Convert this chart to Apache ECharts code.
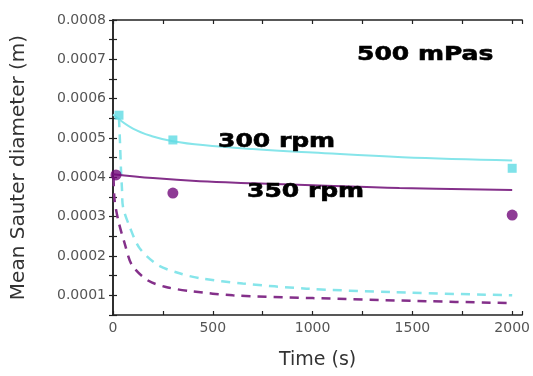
<!DOCTYPE html>
<html>
<head>
<meta charset="utf-8">
<script src="https://cdn.jsdelivr.net/npm/echarts@6/dist/echarts.min.js"></script>
<style>
html,body{margin:0;padding:0;background:#fff;}
#chart{width:533px;height:376px;}
</style>
</head>
<body>
<div id="chart"></div>
<script>
// Measured points
const meas300_t = [30, 300, 2000];
const meas300_d = [0.000558, 0.000495, 0.000423];
const meas350_t = [15, 300, 2000];
const meas350_d = [0.000406, 0.00036, 0.000304];

// Solid model curves
const fit300_t = [0, 100, 200, 300, 450, 700, 1000, 1450, 2000];
const fit300_d = [0.00056, 0.000524, 0.000504, 0.000492, 0.000482, 0.000472, 0.000463, 0.000451, 0.000443];
const fit350_t = [0, 200, 435, 700, 1000, 1435, 2000];
const fit350_d = [0.000408, 0.000398, 0.00039, 0.000385, 0.00038, 0.000373, 0.000368];

// Dashed model curves
const dash300_t = [30, 35, 40, 45, 50, 83, 133, 225, 333, 440, 650, 970, 1400, 2000];
const dash300_d = [0.00055, 0.00049, 0.00042, 0.00037, 0.000325, 0.000275, 0.00022, 0.000177, 0.000156, 0.000143, 0.00013, 0.000117, 0.000108, 0.0001];
const dash350_t = [3, 8, 28, 58, 95, 178, 275, 400, 600, 1000, 1500, 2000];
const dash350_d = [0.0004, 0.000342, 0.000287, 0.000233, 0.000177, 0.000137, 0.00012, 0.00011, 0.0001, 0.000093, 0.000086, 0.00008];

// Axis ranges
const xMin = 0, xMax = 2050, xStep = 250;
const yMin = 0.00005, yMax = 0.0008, yStep = 0.00005;

const annotations = ['500 mPas', '300 rpm', '350 rpm'];

const zip = (a, b) => a.map((v, i) => [v, b[i]]);

const cyanMark = '#5fdbe3';
const cyanLine = '#86e5ea';
const purpleMark = '#720a7a';
const purpleLine = '#84308a';

const axisLineStyle = { color: '#222', width: 1.5 };
const baseX = {
  type: 'value', min: xMin, max: xMax, interval: xStep,
  axisLine: { show: true, lineStyle: axisLineStyle },
  axisTick: { show: true, inside: true, length: 4, lineStyle: { color: '#222', width: 1.2 } },
  splitLine: { show: false }
};
const baseY = {
  type: 'value', min: yMin, max: yMax, interval: yStep,
  axisLine: { show: true, lineStyle: axisLineStyle },
  axisTick: { show: true, inside: true, length: 4, lineStyle: { color: '#222', width: 1.2 } },
  splitLine: { show: false }
};

const chart = echarts.init(document.getElementById('chart'), null, { renderer: 'canvas' });
chart.setOption({
  animation: false,
  backgroundColor: '#fff',
  grid: { left: 113, right: 10, top: 20, bottom: 61 },
  xAxis: [
    Object.assign({}, baseX, {
      position: 'bottom',
      name: 'Time (s)', nameLocation: 'middle', nameGap: 36,
      nameTextStyle: { fontFamily: 'DejaVu Sans', fontSize: 19, color: '#333' },
      axisLabel: {
        fontFamily: 'DejaVu Sans', fontSize: 14, color: '#555', margin: 6,
        formatter: v => (Math.round(v) % 500 === 0 ? String(v) : '')
      }
    }),
    Object.assign({}, baseX, { position: 'top', axisLabel: { show: false } })
  ],
  yAxis: [
    Object.assign({}, baseY, {
      position: 'left',
      name: 'Mean Sauter diameter (m)', nameLocation: 'middle', nameGap: 84,
      nameTextStyle: { fontFamily: 'DejaVu Sans', fontSize: 20, color: '#333' },
      axisLabel: {
        fontFamily: 'DejaVu Sans', fontSize: 14, color: '#555', margin: 7,
        formatter: v => (Math.round(v * 1e5) % 10 === 0 ? v.toFixed(4) : '')
      }
    }),
    Object.assign({}, baseY, { position: 'right', axisLabel: { show: false } })
  ],
  series: [
    { type: 'line', data: zip(dash300_t, dash300_d), showSymbol: false, smooth: 0.3,
      lineStyle: { color: cyanLine, width: 2.5, type: [9, 7] }, z: 2 },
    { type: 'line', data: zip(dash350_t, dash350_d), showSymbol: false, smooth: 0.3,
      lineStyle: { color: purpleLine, width: 2.5, type: [9, 7] }, z: 2 },
    { type: 'line', data: zip(fit300_t, fit300_d), showSymbol: false, smooth: 0.4,
      lineStyle: { color: cyanLine, width: 2 }, z: 3 },
    { type: 'line', data: zip(fit350_t, fit350_d), showSymbol: false, smooth: 0.4,
      lineStyle: { color: purpleLine, width: 2 }, z: 3 },
    { type: 'scatter', data: zip(meas300_t, meas300_d), symbol: 'rect', symbolSize: 9,
      itemStyle: { color: cyanMark }, z: 4 },
    { type: 'scatter', data: zip(meas350_t, meas350_d), symbol: 'circle', symbolSize: 11,
      itemStyle: { color: purpleMark }, z: 4 }
  ],
  graphic: [
    { type: 'text', x: 357, y: 55, scaleX: 1.25, z: 10,
      style: { text: annotations[0], font: 'bold 20px "DejaVu Sans"', fill: '#000', stroke: '#000', lineWidth: 0.6, align: 'left', verticalAlign: 'middle' } },
    { type: 'text', x: 218, y: 142, scaleX: 1.25, z: 10,
      style: { text: annotations[1], font: 'bold 20px "DejaVu Sans"', fill: '#000', stroke: '#000', lineWidth: 0.6, align: 'left', verticalAlign: 'middle' } },
    { type: 'text', x: 247, y: 192, scaleX: 1.25, z: 10,
      style: { text: annotations[2], font: 'bold 20px "DejaVu Sans"', fill: '#000', stroke: '#000', lineWidth: 0.6, align: 'left', verticalAlign: 'middle' } }
  ]
});
</script>
</body>
</html>
